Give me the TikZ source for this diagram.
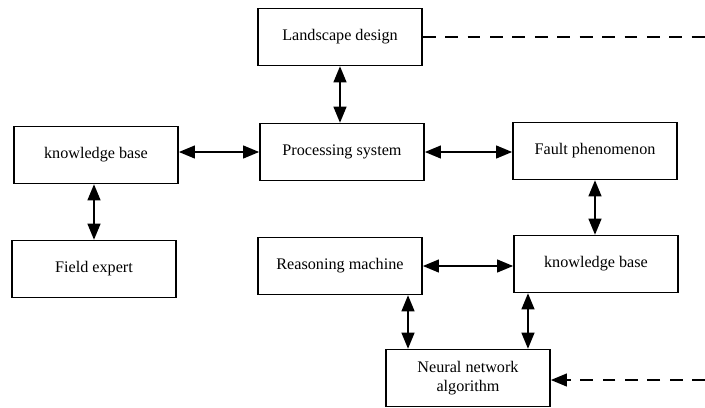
\documentclass[tikz,border=0pt]{standalone}
\usepackage{fontspec}
\setmainfont{Liberation Serif}
\usetikzlibrary{arrows.meta,positioning,calc}

\begin{document}
\begin{tikzpicture}[x=0.025cm,y=-0.025cm,>={Triangle[length=0.4cm,width=0.32cm]},
    block/.style={draw,line width=1.2pt,minimum width=4.1cm,minimum height=1.42cm,
      align=center,font=\fontsize{11.5}{13}\selectfont,inner sep=2pt},
    link/.style={<->,line width=1.2pt},
    future/.style={line width=1.2pt,dash pattern=on 3.2mm off 2.4mm}]
    \useasboundingbox (0,0) rectangle (705,408);
    % upper row
    \node[block] (design) at (340,37) {Landscape design};
    \node[block] (proc) at (342,152) {Processing system};
    \node[block] (fault) at (595,151) {Fault phenomenon};
    \node[block] (kbl) at (96,155) {knowledge base};
    \node[block] (expert) at (94,269) {Field expert};
    % lower row
    \node[block] (reason) at (340,266) {Reasoning machine};
    \node[block] (kbr) at (596,264) {knowledge base};
    \node[block] (neural) at (468,378) {Neural network\\algorithm};
    \coordinate (edgeT) at (705,37);
    \coordinate (edgeB) at (705,380);
    % connectors
    \draw[link] (design) -- (design |- proc.north);
    \draw[link] (kbl.east |- proc) -- (proc);
    \draw[link] (proc) -- (fault.west |- proc);
    \draw[link] (fault) -- (fault |- kbr.north);
    \draw[link] (kbl.south -| expert) -- (expert);
    \draw[link] (reason) -- (kbr.west |- reason);
    \draw[link] ([xshift=1.7cm]reason.south) -- ([xshift=1.7cm]reason.south |- neural.north);
    \draw[link] ([xshift=-1.7cm]kbr.south) -- ([xshift=-1.7cm]kbr.south |- neural.north);
    % dashed links at the right edge
    \draw[future] (design.east) -- (edgeT);
    \draw[future,->] (edgeB) -- (neural.east |- edgeB);
\end{tikzpicture}
\end{document}
